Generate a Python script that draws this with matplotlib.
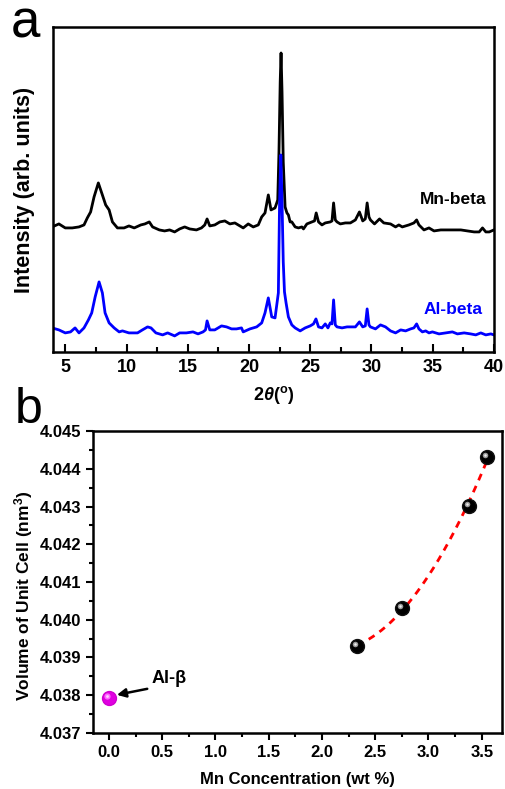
import numpy as np
import matplotlib
matplotlib.use("Agg")
import matplotlib.pyplot as plt
from matplotlib.ticker import FormatStrFormatter
from matplotlib.transforms import offset_copy

plt.rcParams['font.family'] = ['Liberation Sans', 'DejaVu Sans']
plt.rcParams['font.weight'] = 'bold'
plt.rcParams['mathtext.fontset'] = 'custom'
plt.rcParams['mathtext.rm'] = 'Liberation Sans:bold'
plt.rcParams['mathtext.bf'] = 'Liberation Sans:bold'
plt.rcParams['mathtext.it'] = 'Liberation Sans:italic:bold'

# ---- XRD patterns (2theta in degrees, intensity in arbitrary units) ----
mn_theta = [3.93, 4.48, 5.0, 5.57, 6.12, 6.53, 6.8, 7.07, 7.35, 7.7, 8.03, 8.3, 8.58,
            8.85, 9.26, 9.8, 10.2, 10.63, 11.17, 11.5, 11.86, 12.13, 12.68, 13.11,
            13.52, 13.93, 14.34, 14.75, 15.16, 15.71, 16.12, 16.39, 16.58, 16.8,
            17.21, 17.62, 18.03, 18.44, 18.85, 19.26, 19.53, 19.94, 20.35, 20.76,
            21.04, 21.31, 21.58, 21.8, 22.13, 22.35, 22.45, 22.55, 22.62, 22.7, 22.8,
            22.95, 23.1, 23.22, 23.36, 23.5, 23.77, 24.04, 24.32, 24.45, 24.73,
            25.14, 25.35, 25.49, 25.68, 25.96, 26.23, 26.64, 26.78, 26.91, 27.05,
            27.19, 27.46, 27.87, 28.28, 28.69, 29.02, 29.29, 29.5, 29.65, 29.8,
            29.92, 30.25, 30.66, 31.01, 31.56, 31.97, 32.24, 32.52, 33.06, 33.47,
            33.69, 33.88, 34.29, 34.7, 35.11, 35.66, 36.2, 36.75, 37.3, 37.84,
            38.39, 38.8, 39.07, 39.34, 39.62, 40.0]
mn_int = [125, 128, 124, 124, 125, 127, 134, 140, 155, 169, 157, 147, 142,
          130, 124, 124, 126, 124, 127, 128, 130, 125, 122, 121,
          122, 120, 123, 125, 123, 122, 124, 127, 133, 126,
          127, 130, 131, 128, 129, 126, 124, 128, 125, 127,
          135, 139, 157, 142, 144, 152, 200, 270, 299, 260, 190,
          145, 139, 137, 130, 130, 125, 124, 125, 123, 128,
          130, 131, 139, 130, 127, 129, 130, 131, 149, 132,
          130, 128, 129, 129, 132, 140, 131, 133, 149, 135,
          132, 128, 133, 129, 128, 125, 127, 125, 127, 129,
          132, 127, 122, 124, 121, 122, 122, 122, 122, 121,
          120, 120, 124, 120, 120, 122]

al_theta = [3.93, 4.48, 5.0, 5.43, 5.8, 6.12, 6.53, 6.89, 7.16, 7.44, 7.76, 8.03, 8.25,
            8.58, 8.99, 9.4, 9.67, 10.2, 10.9, 11.3, 11.72, 12.0, 12.4, 12.95,
            13.36, 13.93, 14.34, 14.89, 15.43, 15.84, 16.25, 16.45, 16.58, 16.8,
            17.21, 17.76, 18.17, 18.58, 18.98, 19.39, 19.53, 20.08, 20.63, 21.04,
            21.31, 21.58, 21.86, 22.13, 22.4, 22.5, 22.6, 22.7, 22.8, 22.9, 23.03,
            23.22, 23.5, 23.77, 24.18, 24.59, 25.0, 25.27, 25.47, 25.68, 25.96,
            26.23, 26.45, 26.64, 26.78, 26.91, 27.05, 27.19, 27.6, 28.01, 28.42,
            28.69, 29.02, 29.29, 29.5, 29.65, 29.8, 29.92, 30.33, 30.74, 31.15,
            31.56, 31.97, 32.39, 32.79, 33.2, 33.47, 33.69, 33.88, 34.16, 34.43,
            34.7, 34.98, 35.52, 36.07, 36.61, 37.02, 37.57, 38.1, 38.52, 38.93,
            39.34, 39.75, 40.0]
al_int = [24, 22, 19, 20, 24, 19, 24, 32, 39, 55, 70, 59, 39,
          29, 24, 20, 21, 19, 19, 22, 25, 24, 19, 17,
          19, 16, 19, 19, 20, 18, 20, 22, 31, 22,
          22, 26, 25, 23, 23, 24, 20, 23, 25, 29,
          39, 54, 35, 34, 59, 150, 197, 150, 90, 60, 49,
          35, 27, 24, 21, 24, 26, 28, 33, 25, 24,
          28, 24, 29, 28, 52, 27, 25, 24, 25, 25,
          25, 30, 25, 26, 43, 27, 25, 23, 27, 25,
          21, 19, 22, 21, 23, 24, 28, 23, 20, 21,
          19, 20, 18, 19, 20, 18, 19, 18, 17, 19,
          17, 18, 17]

# ---- Unit cell volume vs Mn loading ----
al_conc = [0.0]
al_vol = [4.03792]
mn_conc = [2.33, 2.75, 3.38, 3.55]
mn_vol = [4.03930, 4.04030, 4.04301, 4.04430]

fig = plt.figure(figsize=(5.05, 7.89), dpi=100)

# ---------------- panel a ----------------
ax1 = fig.add_axes([0.105, 0.554, 0.873, 0.4118])
ax1.plot(mn_theta, mn_int, color='black', lw=2.0)
ax1.plot(al_theta, al_int, color='#0000ff', lw=2.0)
ax1.set_xlim(4, 40)
ax1.set_ylim(0, 325)
ax1.set_xticks(np.arange(5, 41, 5))
ax1.set_xticks(np.arange(7.5, 40, 5), minor=True)
ax1.set_yticks([])
ax1.tick_params(axis='x', which='major', direction='in', length=6, width=1.5,
                labelsize=13, pad=5)
ax1.tick_params(axis='x', which='minor', direction='in', length=3.5, width=1.5)
for s in ax1.spines.values():
    s.set_linewidth(1.8)
ax1.set_xlabel(r'2$\it{\theta}$($^{\rm o}$)', fontsize=13, fontweight='bold', labelpad=6)
ax1.set_ylabel('Intensity (arb. units)', fontsize=15.5, fontweight='bold', labelpad=13)
ax1.text(0.984, 0.468, 'Mn-beta', transform=ax1.transAxes, ha='right', va='center',
         fontsize=12.5, fontweight='bold', color='black')
ax1.text(0.975, 0.13, 'Al-beta', transform=ax1.transAxes, ha='right', va='center',
         fontsize=12.5, fontweight='bold', color='#0000ff')
fig.text(0.022, 0.952, 'a', fontsize=38, fontweight='normal', ha='left', va='baseline')

# ---------------- panel b ----------------
ax2 = fig.add_axes([0.184, 0.071, 0.810, 0.3827])
ax2.set_xlim(-0.15, 3.69)
ax2.set_ylim(4.037, 4.045)

fit = np.polyfit(mn_conc, mn_vol, 2)
xf = np.linspace(min(mn_conc), max(mn_conc), 200)
ax2.plot(xf, np.polyval(fit, xf), color='#ff0000', lw=2, dashes=(2.5, 2.2), zorder=2)

hl = offset_copy(ax2.transData, fig=fig, x=-2.2, y=2.2, units='dots')
ax2.plot(mn_conc, mn_vol, 'o', ms=10, color='black', mec='#111111', zorder=3)
ax2.plot(mn_conc, mn_vol, 'o', ms=4, color='#9a9a9a', mec='none', transform=hl, zorder=4)
ax2.plot(mn_conc, mn_vol, 'o', ms=1.8, color='#eeeeee', mec='none', transform=hl, zorder=5)
ax2.plot(al_conc, al_vol, 'o', ms=10, color='#e000e0', mec='#d000d0', zorder=3)
ax2.plot(al_conc, al_vol, 'o', ms=4.5, color='#ff66ff', mec='none', transform=hl, zorder=4)
ax2.plot(al_conc, al_vol, 'o', ms=2, color='#ffd0ff', mec='none', transform=hl, zorder=5)

ax2.text(0.40, 4.03845, 'Al-β', fontsize=13, fontweight='bold', ha='left', va='center')
ax2.annotate('', xy=(0.075, 4.03801), xytext=(0.36, 4.03817),
             arrowprops=dict(arrowstyle='-|>', color='black', lw=1.8,
                             mutation_scale=13, shrinkA=0, shrinkB=0))

ax2.set_xticks(np.arange(0, 3.51, 0.5))
ax2.set_xticks(np.arange(0.25, 3.7, 0.5), minor=True)
ax2.set_yticks(np.arange(4.037, 4.0451, 0.001))
ax2.set_yticks(np.arange(4.0375, 4.045, 0.001), minor=True)
ax2.xaxis.set_major_formatter(FormatStrFormatter('%.1f'))
ax2.yaxis.set_major_formatter(FormatStrFormatter('%.3f'))
ax2.tick_params(which='major', direction='out', length=5, width=1.5, labelsize=12)
ax2.tick_params(which='minor', direction='out', length=3, width=1.5)
for s in ax2.spines.values():
    s.set_linewidth(1.8)
ax2.set_xlabel('Mn Concentration (wt %)', fontsize=12, fontweight='bold', labelpad=9)
ax2.set_ylabel('Volume of Unit Cell (nm$^3$)', fontsize=12.5, fontweight='bold')
ax2.yaxis.set_label_coords(-0.142, 0.455)
fig.text(0.03, 0.464, 'b', fontsize=36, fontweight='normal', ha='left', va='baseline')

fig.savefig('out.png', dpi=100)
